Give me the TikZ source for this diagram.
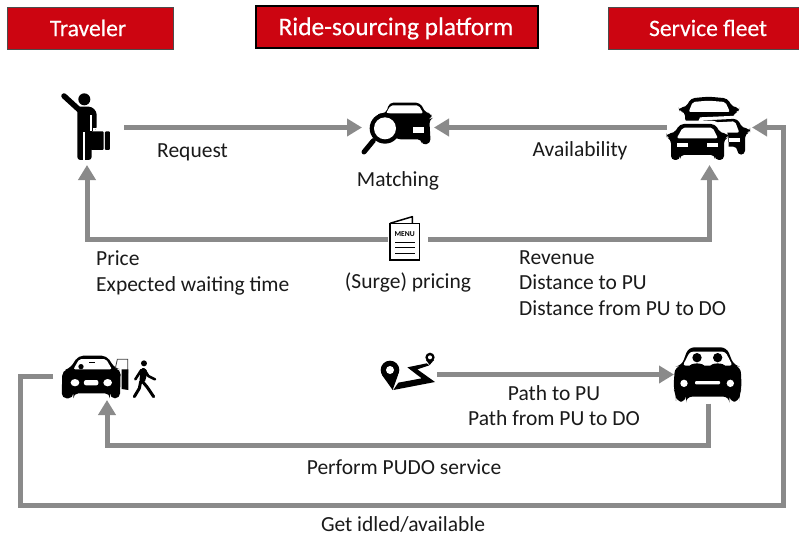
\documentclass[tikz,border=0pt]{standalone}
\usepackage{fontspec}
\setmainfont{Carlito}
\newfontfamily\hdrfont[FakeBold=0.4]{Carlito}
\usetikzlibrary{arrows.meta}
\definecolor{hdrred}{HTML}{CC0511}
\definecolor{conngray}{HTML}{8A8A8A}
\definecolor{txt}{HTML}{1A1A1A}
\tikzset{
  hdr/.style={draw=#1,fill=hdrred,text=white,inner sep=0pt,anchor=center},
  lbl/.style={text=txt,inner sep=0pt,font=\fontsize{21.5}{24}\selectfont},
  conn/.style={draw=conngray,line width=5pt,-{Triangle[length=15pt,width=17pt]}},
  slot/.style={inner sep=0pt,outer sep=0pt},
  zm/.style 2 args={shift={(#1,#2)},x=.3333pt,y=-.3333pt},
}
\begin{document}
\begin{tikzpicture}[x=1pt,y=-1pt]
\useasboundingbox (0,0) rectangle (799,535);
\fill[white] (0,0) rectangle (799,535);
% headers
\node[hdr=black!70,line width=.8pt,minimum width=166pt,minimum height=42pt] (h1) at (90,28) {};
\node[text=white,inner sep=0pt,font=\hdrfont\fontsize{23.6}{26}\selectfont] (h1t) at (88,28) {Traveler};
\node[hdr=black,line width=1.6pt,minimum width=282pt,minimum height=42pt] (h2) at (397,27) {};
\node[text=white,inner sep=0pt,font=\hdrfont\fontsize{25.4}{28}\selectfont] (h2t) at (396,28.5) {Ride-sourcing platform};
\node[hdr=black!70,line width=.8pt,minimum width=200pt,minimum height=42pt] (h3) at (708,28) {};
\node[text=white,inner sep=0pt,font=\hdrfont\fontsize{23.6}{26}\selectfont] (h3t) at (708,28) {Service fleet};
% icon slots
\node[slot,minimum width=74pt,minimum height=75pt] (traveler) at (87,127.5) {};
\node[slot,minimum width=72pt,minimum height=60pt] (matching) at (398,127.5) {};
\node[slot,minimum width=85pt,minimum height=75pt] (fleet) at (709.5,127.5) {};
\node[slot,minimum width=40pt,minimum height=50pt] (menu) at (408,239) {};
\node[slot,minimum width=108pt,minimum height=48pt] (dropoff) at (107,376) {};
\node[slot,minimum width=58pt,minimum height=50pt] (route) at (408,374.5) {};
\node[slot,minimum width=68pt,minimum height=58pt] (driver) at (708,374.5) {};
\coordinate (pudoturn) at (708,445);
\coordinate (loopa) at (20.5,376);
\coordinate (loopb) at (20.5,505);
\coordinate (loopc) at (783,505);
\coordinate (loopd) at (783,127.5);
% connectors
\draw[conn] (traveler.east) -- (matching.west);
\draw[conn] (fleet.west) -- (matching.east);
\draw[conn] (menu.west) -| (traveler.south);
\draw[conn] (menu.east) -| (fleet.south);
\draw[conn] (route.east) -- (driver.west);
\draw[conn] (driver.south) -- (pudoturn) -| (dropoff.south);
\draw[conn] (dropoff.west) -- (loopa) -- (loopb) -- (loopc) -- (loopd) -- (fleet.east);
% traveler icon
\begin{scope}[zm={0}{60}]
  \fill (253,118) circle (18);
  \draw[line width=5.5pt,line cap=round] (192,108) -- (238,150);
  \fill[rounded corners=3pt] (232,140) -- (275,140) -- (290,155) -- (290,210) -- (275,210) -- (275,300) -- (232,300) -- cycle;
  \fill[white] (250,215) rectangle (255,300);
  \fill[white] (271,165) rectangle (275,212);
  \fill[rounded corners=1pt] (272,214) rectangle (311,270);
  \fill[rounded corners=1pt] (315,214) rectangle (330,270);
  \draw[white,line width=1.2pt] (282,212) -- (282,206) -- (296,206) -- (296,212);
  \fill[white] (250,293) rectangle (255,302);
\end{scope}
% matching icon
\begin{scope}[zm={340}{80}]
  \fill[rounded corners=4pt] (110,100) -- (138,100) -- (148,68) -- (240,68) -- (258,100) -- (275,100) -- (275,115) -- (268,118) -- (272,190) -- (245,195) -- (245,178) -- (170,178) -- (120,130) -- cycle;
  \fill[white,rounded corners=2pt] (152,76) -- (236,76) -- (250,100) -- (138,100) -- cycle;
  \fill[white] (220,140) rectangle (253,158);
  \fill (135,145) circle (46);
  \fill[white] (135,145) circle (33);
  \draw[line width=5pt,line cap=round] (100,182) -- (72,216);
\end{scope}
% fleet icon
\begin{scope}[zm={650}{80}]
  % back car
  \fill[rounded corners=4pt] (105,128) -- (105,95) -- (88,95) -- (86,82) -- (108,82) -- (122,55) -- (175,50) -- (232,55) -- (248,82) -- (268,82) -- (266,95) -- (250,100) -- (250,115) -- (145,128) -- cycle;
  \fill[white,rounded corners=2pt] (128,66) -- (175,62) -- (226,66) -- (240,96) -- (116,96) -- cycle;
  % right car
  \fill[white] (145,124) -- (150,112) -- (262,107) -- (285,140) -- (200,160) -- cycle;
  \fill[rounded corners=4pt] (150,122) -- (262,116) -- (278,145) -- (300,145) -- (300,156) -- (285,162) -- (285,224) -- (262,224) -- (262,200) -- (200,200) -- cycle;
  \fill[white,rounded corners=2pt] (165,129) -- (255,124) -- (268,158) -- (180,158) -- cycle;
  \fill[white] (238,174) rectangle (270,187);
  % front car
  \fill[white,rounded corners=5pt] (82,122) -- (200,122) -- (234,155) -- (238,240) -- (55,240) -- (48,155) -- cycle;
  \fill[rounded corners=4pt] (90,132) -- (195,132) -- (212,160) -- (234,160) -- (234,172) -- (222,178) -- (222,240) -- (195,240) -- (195,225) -- (90,225) -- (90,240) -- (63,240) -- (63,178) -- (50,172) -- (50,160) -- (72,160) -- cycle;
  \fill[white,rounded corners=2pt] (98,143) -- (188,143) -- (204,175) -- (80,175) -- cycle;
  \fill[white] (80,190) rectangle (113,202);
  \fill[white] (170,190) rectangle (205,202);
\end{scope}
% menu icon
\begin{scope}[zm={370}{205}]
  \draw[line width=1.5pt,line join=round] (60,55) -- (127,35) -- (127,55);
  \draw[line width=1.6pt,fill=white] (60,55) rectangle (148,165);
  \node[slot,font=\fontsize{7.5}{8}\selectfont\bfseries] (menutext) at (104,88) {MENU};
  \draw[line width=1.2pt] (75,112) -- (135,112) (75,128) -- (135,128) (75,145) -- (135,145);
\end{scope}
% dropoff icon
\begin{scope}[zm={10}{340}]
  \fill[rounded corners=5pt] (205,47) -- (290,47) -- (315,85) -- (332,88) -- (330,175) -- (300,175) -- (300,160) -- (190,160) -- (190,175) -- (155,175) -- (157,92) -- (180,85) -- cycle;
  \fill[white,rounded corners=2pt] (208,57) -- (288,57) -- (306,88) -- (190,88) -- cycle;
  \fill (213,80) circle (8);
  \fill (236,65) rectangle (256,68);
  \fill[white] (195,128) ellipse (13 and 11);
  \fill[white] (293,128) ellipse (13 and 11);
  \fill[white,rounded corners=2pt] (222,120) rectangle (265,136);
  \draw[line width=.8pt,draw=black!75] (316,85) -- (322,58) -- (353,58) -- (353,100);
  \fill (335,88) -- (355,88) -- (355,150) -- (335,147) -- cycle;
  \fill (402,70) circle (9);
  \fill[rounded corners=2pt] (392,84) -- (408,84) -- (412,100) -- (404,128) -- (388,128) -- cycle;
  \draw[line width=2.6pt,line cap=round,line join=round] (394,90) -- (376,118);
  \draw[line width=2.6pt,line cap=round,line join=round] (404,90) -- (415,108) -- (435,118);
  \draw[line width=3pt,line cap=round,line join=round] (392,125) -- (388,145) -- (373,170);
  \draw[line width=3pt,line cap=round,line join=round] (398,125) -- (412,142) -- (431,170);
\end{scope}
% route icon
\begin{scope}[zm={370}{340}]
  \fill (60,90) circle (28);
  \fill (36,105) -- (84,105) -- (68,150) -- cycle;
  \fill[white] (60,90) circle (12);
  \fill (180,52) circle (14);
  \fill (168,60) -- (192,60) -- (179,75) -- cycle;
  \fill[white] (180,52) circle (6);
  \fill (170,70) -- (112,82) -- (155,115) -- (85,128) -- (70,150) -- (195,126) -- (142,88) -- (178,76) -- cycle;
\end{scope}
% driver icon
\begin{scope}[zm={650}{335}]
  \fill[rounded corners=6pt] (115,37) -- (230,37) -- (252,92) -- (272,95) -- (275,160) -- (268,180) -- (268,200) -- (238,200) -- (238,185) -- (108,185) -- (108,200) -- (78,200) -- (78,180) -- (70,160) -- (75,95) -- (95,92) -- cycle;
  \fill[white,rounded corners=3pt] (120,50) -- (226,50) -- (248,92) -- (98,92) -- cycle;
  \fill (141,68) circle (14);
  \fill (203,68) circle (14);
  \fill (118,95) .. controls (120,82) and (162,82) .. (164,95) -- cycle;
  \fill (180,95) .. controls (182,82) and (224,82) .. (226,95) -- cycle;
  \fill[white] (102,145) circle (11);
  \fill[white] (241,145) circle (11);
  \fill[white,rounded corners=1pt] (135,138) rectangle (210,148);
\end{scope}
% labels
\node[lbl,anchor=base west] (request) at (157,157) {Request};
\node[lbl,anchor=base] (matchlbl) at (398,186.5) {Matching};
\node[lbl,anchor=base] (avail) at (580,156) {Availability};
\node[lbl,anchor=base west] (price) at (96,265) {Price};
\node[lbl,anchor=base west] (ewt) at (96,291) {Expected waiting time};
\node[lbl,anchor=base] (surge) at (408,288) {(Surge) pricing};
\node[lbl,anchor=base west] (rev) at (519,264) {Revenue};
\node[lbl,anchor=base west] (dpu) at (519,289) {Distance to PU};
\node[lbl,anchor=base west] (dpd) at (519,315) {Distance from PU to DO};
\node[lbl,anchor=base] (ptp) at (554,400) {Path to PU};
\node[lbl,anchor=base] (pfp) at (554,425) {Path from PU to DO};
\node[lbl,anchor=base] (pudo) at (404,474) {Perform PUDO service};
\node[lbl,anchor=base] (idle) at (403,531) {Get idled/available};
\end{tikzpicture}
\end{document}
